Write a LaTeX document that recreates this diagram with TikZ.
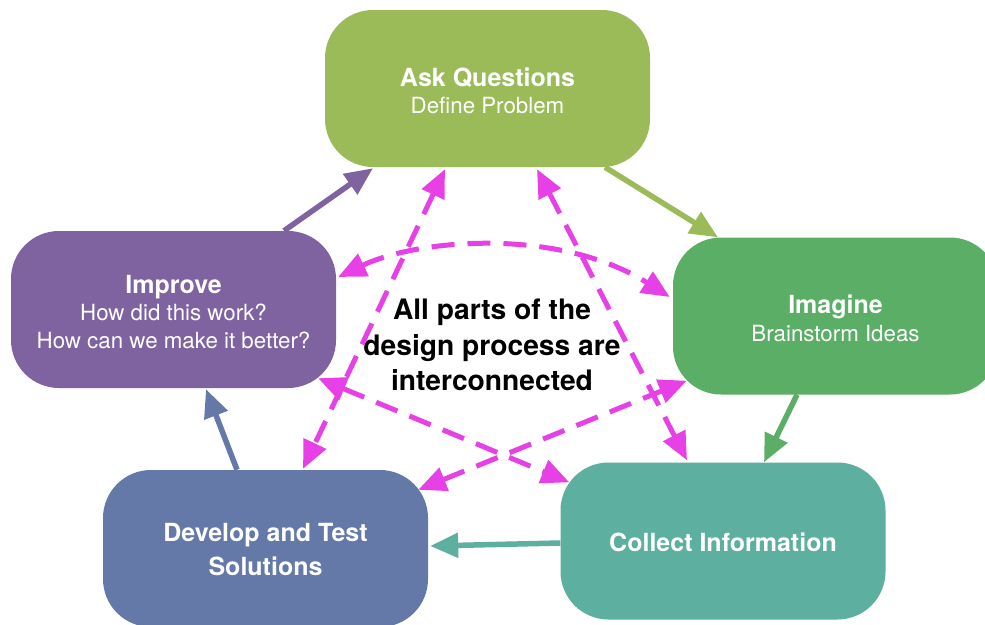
\documentclass[tikz,border=0pt]{standalone}
\usepackage{fontspec}
\setmainfont{TeX Gyre Heros}
\usetikzlibrary{arrows.meta,calc}
\definecolor{askc}{RGB}{155,187,89}
\definecolor{imgc}{RGB}{91,174,101}
\definecolor{colc}{RGB}{93,175,160}
\definecolor{devc}{RGB}{100,121,168}
\definecolor{impc}{RGB}{127,98,160}
\definecolor{magc}{RGB}{230,64,230}
\begin{document}
\begin{tikzpicture}[x=1pt,y=-1pt,
  box/.style={rectangle, rounded corners=48pt, minimum width=325pt, minimum height=157pt,
    inner sep=0pt},
  lbl/.style={inner sep=0pt, align=center, text=white, font=\fontsize{22.3}{27.5}\selectfont},
  flow/.style={line width=5.5pt, -{Triangle[length=28pt,width=24pt]}},
  link/.style={draw=magc, line width=5pt, dash pattern=on 23pt off 13pt,
    {Triangle[length=28pt,width=24pt]}-{Triangle[length=28pt,width=24pt]}}
]
\useasboundingbox (0,0) rectangle (985,624);
\clip (0,0) rectangle (985,624);
\fill[white] (0,0) rectangle (985,624);

\node[box, fill=askc] (ask) at (487.5,88.5) {};
\node[box, fill=imgc] (img) at (835.5,316) {};
\node[box, fill=colc] (col) at (723,541) {};
\node[box, fill=devc] (dev) at (265.5,548.5) {};
\node[box, fill=impc] (imp) at (173.5,309.5) {};

\node[lbl] (askt) at ($(ask.center)+(0,2.5)$)
  {{\fontsize{25}{27.5}\selectfont\bfseries Ask Questions}\\Define Problem};
\node[lbl] (imgt) at ($(img.center)+(0,2.5)$)
  {{\fontsize{25}{27.5}\selectfont\bfseries Imagine}\\Brainstorm Ideas};
\node[lbl, font=\fontsize{25}{30}\selectfont\bfseries] (colt) at ($(col.center)+(0,1)$)
  {Collect Information};
\node[lbl, font=\fontsize{25}{31}\selectfont\bfseries] (devt) at ($(dev.center)+(0,1)$)
  {Develop and Test\\[3.5pt]Solutions};
\node[lbl] (impt) at ($(imp.center)+(0,2.5)$)
  {{\fontsize{25}{27.5}\selectfont\bfseries Improve}\\How did this work?\\How can we make it better?};

\node[align=center, font=\fontsize{28.2}{35.5}\selectfont\bfseries, text=black] (mid) at (492,345)
  {All parts of the\\design process are\\interconnected};

% cycle arrows
\draw[flow, color=askc] ($(ask.south)+(117.5,0)$) -- ($(img.north)+(-117.5,0)$);
\draw[flow, color=imgc] ($(img.south)+(-38.5,0)$) -- ($(col.north)+(41,0)$);
\draw[flow, color=colc] ($(col.west)+(0,2)$) -- ($(dev.east)+(2,-2.5)$);
\draw[flow, color=devc] ($(dev.north)+(-28.5,0)$) -- ($(imp.south)+(32.5,1)$);
\draw[flow, color=impc] ($(imp.north)+(110.5,0)$) -- ($(ask.south)+(-114.5,1)$);

% interconnections
\draw[link] ($(ask.south)+(-42.5,2)$) -- ($(dev.north)+(37.5,-1)$);
\draw[link] ($(ask.south)+(49.5,2)$) -- ($(col.north)+(-36,-2)$);
\draw[link] ($(imp.east)+(2,-32.5)$) .. controls (420,238) and (560,228) .. ($(img.west)+(-3,-19)$);
\draw[link] ($(imp.south east)+(-18,-10)$) -- ($(col.north west)+(9,20)$);
\draw[link] ($(dev.north east)+(-10,20)$) -- ($(img.south west)+(14,-14)$);
\end{tikzpicture}
\end{document}
